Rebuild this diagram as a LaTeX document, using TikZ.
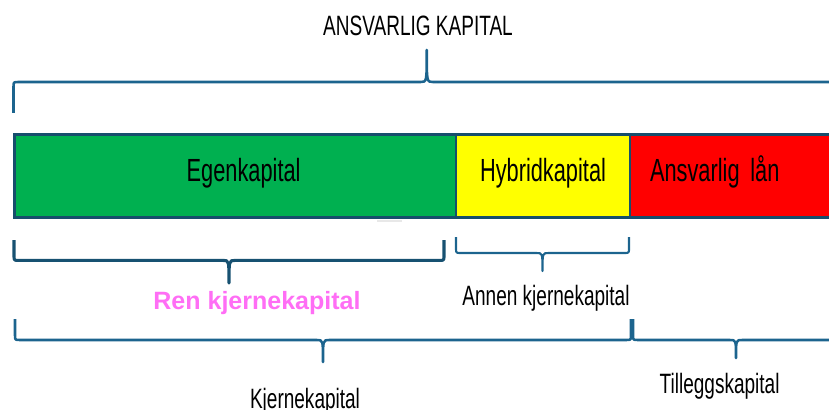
\documentclass[tikz,border=0pt]{standalone}
\usepackage{fontspec}
\setmainfont{Liberation Sans}
\newfontfamily\smalfont[FakeStretch=0.68]{Liberation Sans}
\usetikzlibrary{positioning,calc}

\definecolor{kant}{RGB}{22,78,108}
\definecolor{klammeblaa}{RGB}{28,100,142}
\definecolor{groenn}{RGB}{0,176,80}
\definecolor{gul}{RGB}{255,255,0}
\definecolor{roed}{RGB}{255,0,0}
\definecolor{rosa}{RGB}{255,110,245}

% Klamme: x1, x2, y ende, y linje, y spiss, stil
\newcommand{\klamme}[6]{%
  \draw[#6] (#1,#3) -- ({#1},{(#4)+0.12*sign((#3)-(#4))}) .. controls (#1,#4) .. ({#1+0.12},#4)
    -- ({(#1+#2)/2-0.15},#4) .. controls ({(#1+#2)/2},#4) .. ({(#1+#2)/2},#5)
    .. controls ({(#1+#2)/2},#4) .. ({(#1+#2)/2+0.15},#4)
    -- ({#2-0.12},#4) .. controls (#2,#4) .. ({#2},{(#4)+0.12*sign((#3)-(#4))}) -- (#2,#3);}

\begin{document}
\begin{tikzpicture}
    % Stiler
    \tikzset{
        blokk/.style={rectangle, draw=kant, line width=1.5pt, outer sep=0pt, minimum height=2.075cm, anchor=north west, text height=0.72em, text depth=0pt, font=\smalfont\fontsize{22.8}{26}\selectfont},
        etikett/.style={anchor=base, inner sep=0pt, font=\smalfont\fontsize{19.9}{24}\selectfont},
        ramme/.style={draw=kant, line width=2.2pt},
        klamme/.style={draw=klammeblaa, line width=1.8pt, line join=round}
    }
    \clip (0,0) rectangle (20.725,-10.25);

    % Overskrift
    \node[etikett] (tittel) at (10.45,-0.9) {ANSVARLIG KAPITAL};

    % Kapitalblokker
    \node[blokk, fill=groenn, minimum width=11.0375cm] (egen) at (0.3625,-3.3625) {\hspace*{0.42cm}Egenkapital};
    \node[blokk, fill=gul, minimum width=4.35cm] (hybrid) at (egen.north east) {Hybridkapital};
    \node[blokk, fill=roed, text width=5cm, inner xsep=0.5cm, align=left] (ansvlaan) at (hybrid.north east) {Ansvarlig lån};
    \draw[ramme] (egen.north west) rectangle (ansvlaan.south east);
    \fill[gray!18] (9.425,-5.49) rectangle (10.05,-5.56);

    % Klammer
    \klamme{0.3375}{21.0}{-2.825}{-2.05}{-1.25}{klamme}
    \klamme{0.35}{11.1}{-6.0}{-6.51}{-7.075}{klamme, draw=kant!85!klammeblaa, line width=2.2pt}
    \klamme{11.4}{15.725}{-5.925}{-6.325}{-6.775}{klamme, line width=1.5pt}
    \klamme{0.375}{15.775}{-7.975}{-8.5}{-9.05}{klamme}
    \klamme{15.825}{20.975}{-7.975}{-8.5}{-8.95}{klamme}

    % Nivaaer
    \node[etikett, font=\bfseries\fontsize{17.8}{21}\selectfont, text=rosa] (ren) at (6.425,-7.725) {Ren kjernekapital};
    \node[etikett] (annen) at (13.65,-7.625) {Annen kjernekapital};
    \node[etikett] (kjerne) at (7.625,-10.2) {Kjernekapital};
    \node[etikett] (tillegg) at (17.99,-9.825) {Tilleggskapital};
\end{tikzpicture}
\end{document}
